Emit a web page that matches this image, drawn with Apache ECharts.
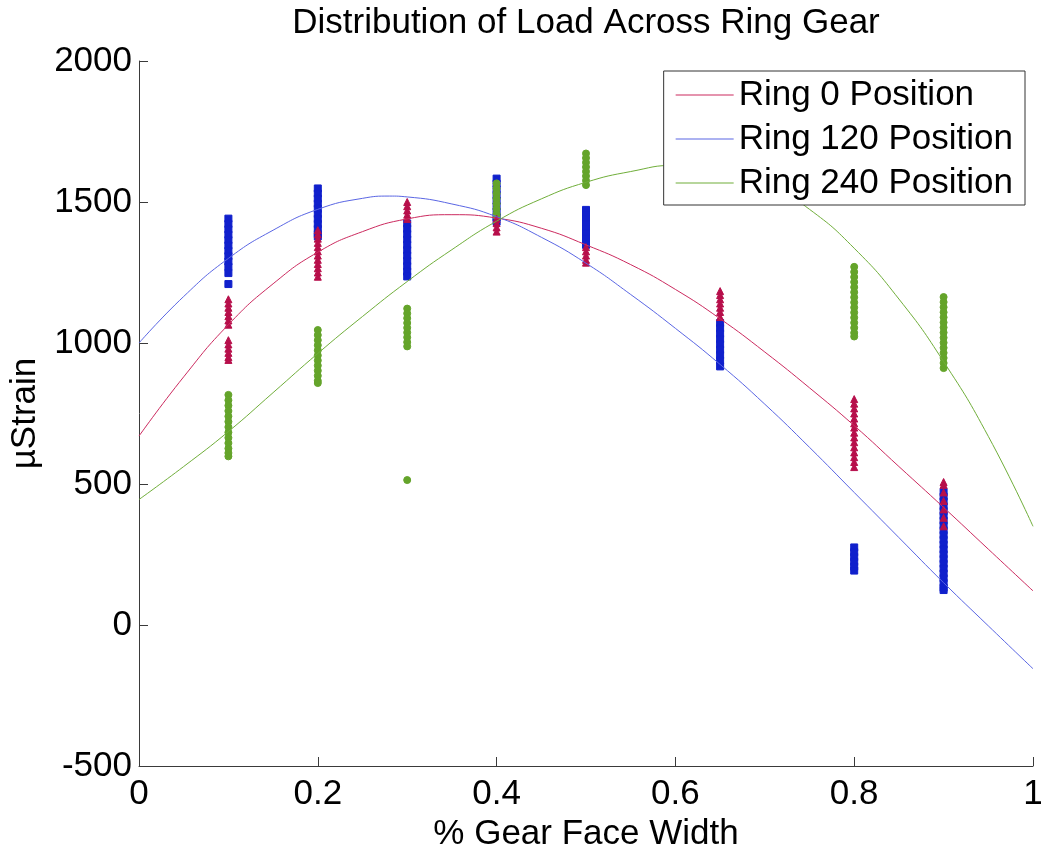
<!DOCTYPE html>
<html>
<head>
<meta charset="utf-8">
<script src="https://cdn.jsdelivr.net/npm/echarts/dist/echarts.min.js"></script>
<style>
html,body{margin:0;padding:0;background:#fff;}
#chart{width:1041px;height:847px;}
</style>
</head>
<body>
<div id="chart"></div>
<script>
// ---- data ----
const chartTitle = 'Distribution of Load Across Ring Gear';
const xAxisName = '% Gear Face Width';
const yAxisName = 'µStrain';
const seriesNames = ['Ring 0 Position', 'Ring 120 Position', 'Ring 240 Position'];

// measurement positions (fraction of gear face width)
const xPositions = [0.1, 0.2, 0.3, 0.4, 0.5, 0.65, 0.8, 0.9];

// measured µStrain samples, one list per x position
const ring0Columns = [
  [1155, 1140, 1125, 1110, 1095, 1080, 1065, 1010, 995, 980, 965, 950, 940],
  [1400, 1385, 1370, 1355, 1340, 1325, 1310, 1295, 1280, 1265, 1250, 1235],
  [1500, 1485, 1470, 1455, 1440],
  [1440, 1425, 1410, 1395],
  [1340, 1325, 1310, 1295, 1285],
  [1184, 1170, 1155, 1140, 1125, 1110, 1092],
  [801, 785, 768, 750, 732, 715, 700, 682, 665, 648, 630, 612, 595, 578, 560],
  [507, 497, 470, 440, 410, 380, 350]
];
const ring120Columns = [
  [1441, 1422, 1403, 1384, 1365, 1346, 1327, 1308, 1289, 1270, 1248, 1209],
  [1548, 1530, 1512, 1494, 1476, 1458, 1440, 1422, 1404, 1386, 1378],
  [1424, 1405, 1386, 1367, 1348, 1329, 1310, 1291, 1272, 1253, 1236],
  [1583, 1565, 1545, 1525, 1505, 1485, 1465, 1445, 1430],
  [1472, 1455, 1438, 1421, 1404, 1387, 1370, 1348],
  [1071, 1052, 1033, 1014, 995, 976, 957, 938, 917],
  [275, 258, 241, 224, 207, 193],
  [472, 455, 438, 421, 404, 387, 370, 353, 336, 319, 302, 285, 268, 251, 234, 217, 200, 183, 166, 149, 132, 124]
];
const ring240Columns = [
  [816, 797, 778, 759, 740, 721, 702, 683, 664, 645, 626, 610, 598],
  [1046, 1028, 1010, 992, 974, 956, 938, 920, 902, 884, 866, 858],
  [1122, 1105, 1088, 1071, 1054, 1037, 1020, 1003, 988, 514],
  [1566, 1548, 1530, 1512, 1494, 1476, 1458, 1449],
  [1672, 1656, 1640, 1624, 1608, 1592, 1576, 1560],
  [],
  [1270, 1252, 1234, 1216, 1198, 1180, 1162, 1144, 1126, 1108, 1090, 1072, 1054, 1036, 1023],
  [1163, 1145, 1127, 1109, 1091, 1073, 1055, 1037, 1019, 1001, 983, 965, 947, 929, 911]
];

// fitted curves, read at these x values
const curveX = [0, 0.05, 0.1, 0.15, 0.2, 0.25, 0.3, 0.35, 0.4, 0.45, 0.5, 0.55, 0.6, 0.65, 0.7, 0.75, 0.8, 0.85, 0.9, 0.95, 1.0];
const ring0Fit   = [670, 880, 1065, 1210, 1322, 1395, 1440, 1455, 1443, 1407, 1348, 1278, 1190, 1086, 968, 841, 707, 562, 417, 269, 121];
const ring240Fit = [445, 562, 686, 824, 963, 1094, 1218, 1331, 1432, 1511, 1570, 1608, 1630, 1622, 1572, 1474, 1336, 1156, 934, 669, 350];
// Ring 120 curve read at its own x values (includes its peak near 0.28)
const ring120FitX = [0, 0.05, 0.1, 0.15, 0.2, 0.25, 0.28, 0.3, 0.35, 0.4, 0.45, 0.5, 0.55, 0.6, 0.65, 0.7, 0.75, 0.8, 0.85, 0.9, 0.95, 1.0];
const ring120Fit  = [1000, 1165, 1300, 1400, 1474, 1513, 1521, 1518, 1493, 1448, 1375, 1283, 1172, 1052, 924, 783, 630, 470, 310, 150, -3, -155];

const yTicks = {min: -500, max: 2000, interval: 500};
const xTicks = {min: 0, max: 1, interval: 0.2};

// ---- build ----
function pairs(xs, ys) { return xs.map((x, i) => [x, ys[i]]); }
function columnPoints(cols) {
  const out = [];
  cols.forEach((ys, i) => ys.forEach(y => out.push([xPositions[i], y])));
  return out;
}

const FONT = '"Liberation Sans", Arial, Helvetica, sans-serif';
const markerColors = ['#b70f4b', '#1020cc', '#64a42a'];
const lineColors = ['#cc2a5f', '#5a66e4', '#70ae3a'];

const chart = echarts.init(document.getElementById('chart'), null, {renderer: 'canvas'});

const axisCommon = {
  axisLine: {show: true, onZero: false, lineStyle: {color: '#3a3a3a', width: 1}},
  axisTick: {show: true, inside: true, length: 9, lineStyle: {color: '#3a3a3a', width: 1}},
  splitLine: {show: false},
  nameTextStyle: {color: '#000', fontSize: 35, fontFamily: FONT},
  nameLocation: 'middle'
};
const plain = v => String(Math.round(v * 1000) / 1000);

function markerStyle(c) {
  return {color: c, borderColor: c, borderWidth: 1, opacity: 1};
}

const option = {
  animation: false,
  backgroundColor: '#fff',
  graphic: [{
    type: 'text',
    x: 586, y: 23,
    style: {text: chartTitle, font: '35px ' + FONT, fill: '#000', align: 'center', verticalAlign: 'middle'}
  }],
  grid: {left: 139, right: 8, top: 61, bottom: 81, containLabel: false, outerBoundsMode: 'none'},
  xAxis: Object.assign({}, axisCommon, {
    type: 'value', min: xTicks.min, max: xTicks.max, interval: xTicks.interval,
    axisLabel: {color: '#000', fontSize: 35, fontFamily: FONT, margin: 11, formatter: plain},
    name: xAxisName, nameGap: 49
  }),
  yAxis: Object.assign({}, axisCommon, {
    type: 'value', min: yTicks.min, max: yTicks.max, interval: yTicks.interval,
    axisLabel: {color: '#000', fontSize: 35, fontFamily: FONT, margin: 7, formatter: plain},
    name: yAxisName, nameGap: 75
  }),
  legend: {
    data: seriesNames.map(n => ({name: n, icon: 'rect'})),
    orient: 'vertical',
    right: 16, top: 71,
    backgroundColor: '#fff',
    borderColor: '#333', borderWidth: 1,
    padding: [4, 12, 2, 12],
    itemWidth: 58, itemHeight: 1, itemGap: 4,
    textStyle: {color: '#000', fontSize: 35, fontFamily: FONT, lineHeight: 40},
    selectedMode: false
  },
  series: [
    {name: 'Ring 120 samples', type: 'scatter', symbol: 'rect', symbolSize: 7,
     itemStyle: markerStyle(markerColors[1]), data: columnPoints(ring120Columns), z: 2},
    {name: 'Ring 240 samples', type: 'scatter', symbol: 'circle', symbolSize: 7,
     itemStyle: markerStyle(markerColors[2]), data: columnPoints(ring240Columns), z: 2},
    {name: 'Ring 0 samples', type: 'scatter', symbol: 'triangle', symbolSize: 7,
     itemStyle: markerStyle(markerColors[0]), data: columnPoints(ring0Columns), z: 2},
    {name: seriesNames[0], type: 'line', smooth: true, showSymbol: false, symbol: 'none',
     lineStyle: {color: lineColors[0], width: 1}, itemStyle: {color: lineColors[0]},
     data: pairs(curveX, ring0Fit), z: 3},
    {name: seriesNames[1], type: 'line', smooth: true, showSymbol: false, symbol: 'none',
     lineStyle: {color: lineColors[1], width: 1}, itemStyle: {color: lineColors[1]},
     data: pairs(ring120FitX, ring120Fit), z: 3},
    {name: seriesNames[2], type: 'line', smooth: true, showSymbol: false, symbol: 'none',
     lineStyle: {color: lineColors[2], width: 1}, itemStyle: {color: lineColors[2]},
     data: pairs(curveX, ring240Fit), z: 3}
  ]
};
chart.setOption(option);
</script>
</body>
</html>
